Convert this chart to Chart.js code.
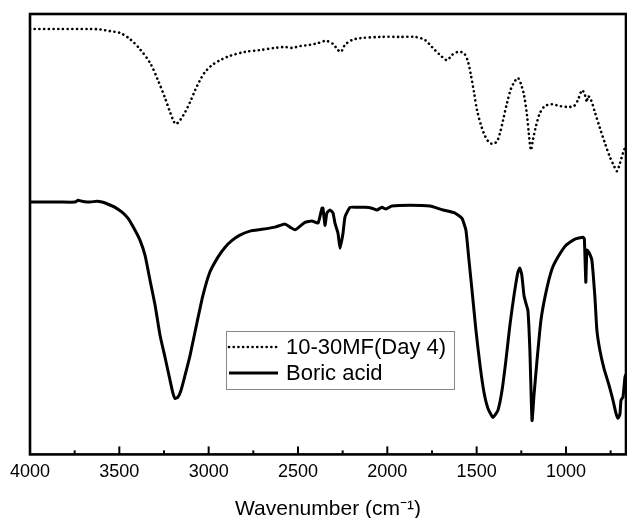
<!DOCTYPE html>
<html>
<head>
<meta charset="utf-8">
<script src="https://cdn.jsdelivr.net/npm/chart.js@4"></script>
<style>
  html, body { margin: 0; padding: 0; background: #fff; }
  #wrap { width: 627px; height: 518px; }
</style>
</head>
<body>
<div id="wrap"><canvas id="ftirChart"></canvas></div>
<script>
// 10-30MF (Day 4), dotted
const mfWavenumber = [4000, 3832, 3664, 3608, 3552, 3496, 3440, 3384, 3328, 3284, 3244, 3216, 3194, 3183, 3160, 3132, 3104, 3076, 3048, 3021, 2981, 2937, 2881, 2797, 2713, 2629, 2573, 2534, 2489, 2433, 2388, 2343, 2304, 2276, 2259, 2237, 2198, 2153, 2041, 1929, 1845, 1789, 1750, 1705, 1666, 1638, 1604, 1571, 1548, 1532, 1515, 1498, 1476, 1453, 1431, 1409, 1386, 1369, 1352, 1330, 1308, 1285, 1269, 1252, 1235, 1218, 1207, 1196, 1185, 1168, 1146, 1118, 1079, 1034, 989, 955, 933, 910, 894, 883, 877, 860, 838, 810, 782, 754, 731, 715, 698, 681, 664];
const mfValues = [96.6, 96.6, 96.6, 96.5, 96.1, 95.7, 94.3, 92.0, 88.9, 85.0, 80.9, 77.7, 75.5, 75.0, 75.9, 77.7, 80.0, 82.7, 85.0, 86.8, 88.4, 89.5, 90.5, 91.4, 91.8, 92.3, 92.5, 92.3, 92.7, 93.0, 93.4, 93.9, 93.2, 91.8, 91.4, 93.0, 94.1, 94.5, 94.8, 94.8, 94.8, 94.1, 92.5, 90.7, 89.5, 90.7, 91.4, 91.1, 89.1, 86.1, 82.3, 78.2, 74.8, 72.3, 70.9, 70.5, 71.1, 73.0, 75.9, 79.8, 83.0, 84.8, 85.5, 84.1, 81.6, 77.0, 72.5, 69.1, 71.4, 74.5, 77.5, 79.1, 79.5, 79.1, 78.9, 79.1, 80.5, 82.7, 81.6, 80.0, 81.4, 80.5, 77.7, 74.1, 70.7, 67.5, 65.5, 64.3, 66.1, 68.4, 70.2];

// Boric acid, solid
const baWavenumber = [4000, 3832, 3748, 3731, 3709, 3664, 3625, 3597, 3563, 3524, 3485, 3451, 3412, 3384, 3356, 3328, 3300, 3272, 3244, 3216, 3200, 3188, 3172, 3155, 3132, 3104, 3065, 3032, 2993, 2948, 2909, 2869, 2825, 2769, 2702, 2629, 2573, 2545, 2517, 2489, 2461, 2422, 2388, 2366, 2360, 2349, 2338, 2321, 2304, 2293, 2276, 2265, 2248, 2237, 2209, 2170, 2125, 2086, 2058, 2030, 2008, 1974, 1873, 1761, 1688, 1621, 1582, 1560, 1543, 1526, 1504, 1481, 1459, 1437, 1409, 1381, 1358, 1336, 1314, 1291, 1269, 1258, 1247, 1235, 1224, 1213, 1202, 1190, 1179, 1162, 1140, 1112, 1079, 1045, 1000, 950, 905, 897, 889, 883, 872, 855, 838, 827, 810, 787, 759, 737, 720, 709, 698, 692, 681, 670, 664];
const baValues = [57.3, 57.3, 57.3, 57.7, 57.5, 57.3, 57.5, 57.3, 56.8, 56.1, 55.0, 53.6, 50.9, 48.6, 45.2, 39.5, 33.9, 27.0, 22.0, 16.8, 13.9, 12.7, 13.0, 14.5, 18.0, 22.5, 30.0, 36.1, 41.4, 44.8, 47.0, 48.6, 49.8, 50.7, 51.1, 51.6, 52.3, 51.6, 51.0, 51.8, 52.7, 53.0, 52.5, 55.9, 55.9, 52.0, 54.8, 55.5, 54.8, 52.5, 50.2, 46.8, 50.2, 53.9, 56.1, 56.1, 56.1, 55.9, 55.5, 56.1, 55.7, 56.4, 56.6, 56.4, 55.5, 54.8, 53.6, 50.9, 44.1, 37.3, 28.2, 20.2, 14.1, 10.5, 8.4, 10.0, 14.5, 21.4, 29.3, 36.1, 41.4, 42.3, 40.7, 36.1, 34.3, 32.7, 23.6, 7.7, 13.4, 21.4, 30.5, 36.8, 42.0, 44.8, 47.5, 48.9, 49.3, 48.9, 39.1, 46.4, 45.9, 44.1, 35.7, 28.2, 23.6, 19.5, 15.7, 12.3, 9.3, 8.2, 9.1, 12.3, 13.0, 17.5, 18.2];

const xMin = 664;
const xMax = 4000;

const FONT = "'Liberation Sans', Arial, sans-serif";

function toPoints(xs, ys) {
  return xs.map((x, i) => ({ x: x, y: ys[i] }));
}

// frame around the plot + inward ticks on the bottom axis
const framePlugin = {
  id: "frame",
  afterDraw(chart) {
    const ctx = chart.ctx;
    const a = chart.chartArea;
    const xs = chart.scales.x;
    ctx.save();
    ctx.strokeStyle = "#000";
    ctx.lineWidth = 2;
    xs.ticks.forEach(t => {
      const px = xs.getPixelForValue(t.value);
      const len = t.value % 500 === 0 ? 8 : 4;
      ctx.beginPath();
      ctx.moveTo(px, a.bottom);
      ctx.lineTo(px, a.bottom - len);
      ctx.stroke();
    });
    ctx.lineWidth = 2.6;
    ctx.strokeRect(a.left, a.top, a.right - a.left, a.bottom - a.top);
    ctx.restore();
  }
};

// legend box inside the plot
const boxLegend = {
  id: "boxLegend",
  afterDraw(chart) {
    const ctx = chart.ctx;
    const x0 = 226, y0 = 331, w = 228, h = 58;
    ctx.save();
    ctx.fillStyle = "#fff";
    ctx.fillRect(x0, y0, w, h);
    ctx.strokeStyle = "#888";
    ctx.lineWidth = 1;
    ctx.strokeRect(x0 + 0.5, y0 + 0.5, w, h);
    ctx.font = "22px " + FONT;
    ctx.fillStyle = "#000";
    ctx.textBaseline = "middle";
    chart.data.datasets.forEach((ds, i) => {
      const y = y0 + 16 + i * 26;
      ctx.beginPath();
      ctx.setLineDash(ds.borderDash || []);
      ctx.lineCap = ds.borderCapStyle || "butt";
      ctx.lineWidth = ds.borderWidth;
      ctx.strokeStyle = ds.borderColor;
      ctx.moveTo(x0 + 3, y);
      ctx.lineTo(x0 + 52, y);
      ctx.stroke();
      ctx.setLineDash([]);
      ctx.fillText(ds.label, x0 + 60, y + 1);
    });
    ctx.restore();
  }
};

new Chart(document.getElementById("ftirChart").getContext("2d"), {
  type: "line",
  data: {
    datasets: [
      {
        label: "10-30MF(Day 4)",
        data: toPoints(mfWavenumber, mfValues),
        borderColor: "#000",
        borderWidth: 2.6,
        borderDash: [0.1, 4.6],
        borderCapStyle: "round",
        pointRadius: 0,
        tension: 0.3
      },
      {
        label: "Boric acid",
        data: toPoints(baWavenumber, baValues),
        borderColor: "#000",
        borderWidth: 3,
        pointRadius: 0,
        tension: 0.15
      }
    ]
  },
  options: {
    responsive: true,
    maintainAspectRatio: false,
    animation: false,
    layout: { padding: { left: 30, right: 1, top: 14, bottom: -2 } },
    plugins: {
      legend: { display: false },
      tooltip: { enabled: false }
    },
    scales: {
      x: {
        type: "linear",
        reverse: true,
        min: xMin,
        max: xMax,
        grid: { display: false, drawTicks: false },
        border: { display: false },
        ticks: {
          stepSize: 250,
          includeBounds: false,
          autoSkip: false,
          maxRotation: 0,
          padding: 7,
          color: "#000",
          font: { family: FONT, size: 18 },
          callback: v => (v % 500 === 0 ? String(v) : "")
        },
        title: {
          display: true,
          text: "Wavenumber (cm\u207B\u00B9)",
          color: "#000",
          font: { family: FONT, size: 21, lineHeight: 1.0 },
          padding: { top: 9, bottom: 0 }
        }
      },
      y: {
        display: false,
        min: 0,
        max: 100
      }
    }
  },
  plugins: [framePlugin, boxLegend]
});
</script>
</body>
</html>
